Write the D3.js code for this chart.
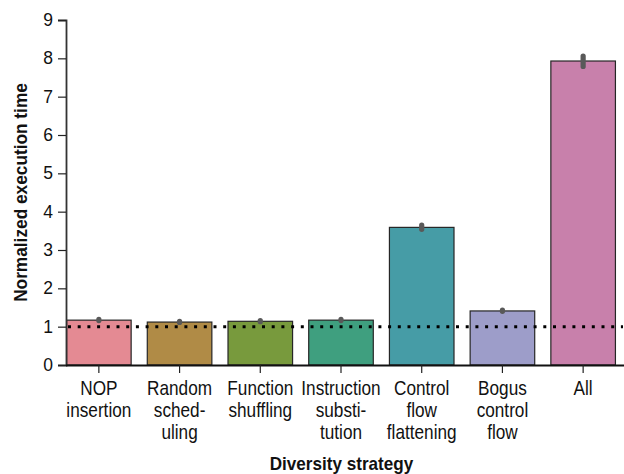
<!DOCTYPE html>
<html>
<head>
<meta charset="utf-8">
<script src="https://cdn.jsdelivr.net/npm/d3@7"></script>
<style>
  html, body { margin: 0; padding: 0; background: #fff; }
  svg text { font-family: "Liberation Sans", Arial, sans-serif; fill: #111; }
</style>
</head>
<body>
<svg id="chart" width="624" height="474"></svg>
<script>
// Diversity strategies (x-axis categories, with manual line breaks)
const strategies = [
  ["NOP", "insertion"],
  ["Random", "sched-", "uling"],
  ["Function", "shuffling"],
  ["Instruction", "substi-", "tution"],
  ["Control", "flow", "flattening"],
  ["Bogus", "control", "flow"],
  ["All"]
];
// Mean normalized execution time per strategy
const meanTime = [1.17, 1.12, 1.14, 1.17, 3.59, 1.41, 7.93];
// Confidence interval bounds
const ciLow  = [1.16, 1.11, 1.13, 1.16, 3.54, 1.40, 7.79];
const ciHigh = [1.19, 1.14, 1.16, 1.19, 3.65, 1.43, 8.06];
// Bar fill colours
const barColors = ["#e48a93", "#b08b46", "#789a3d", "#3f9f7f", "#469ca6", "#9d9dc9", "#c880ab"];
// Y-axis ticks
const yTicks = [0, 1, 2, 3, 4, 5, 6, 7, 8, 9];
const baseline = 1;

const svg = d3.select("#chart");
const m = { left: 66, right: 623, top: 20, bottom: 365 };
const squeeze = 0.86;   // horizontal compression for the condensed label face

const ids = strategies.map((d, i) => i);
const x = d3.scaleBand().domain(ids).range([58.5, 623.5]).paddingInner(0.2).paddingOuter(0.1);
const y = d3.scaleLinear().domain([0, 9]).range([m.bottom, m.top]);
const cx = i => x(i) + x.bandwidth() / 2;

// Bars
svg.append("g").selectAll("rect").data(ids).join("rect")
  .attr("x", i => x(i))
  .attr("y", i => y(meanTime[i]))
  .attr("width", x.bandwidth())
  .attr("height", i => y(0) - y(meanTime[i]))
  .attr("fill", i => barColors[i])
  .attr("stroke", "#262626")
  .attr("stroke-width", 1.2);

// Reference line at 1
svg.append("line")
  .attr("x1", m.left + 2).attr("x2", m.right)
  .attr("y1", y(baseline)).attr("y2", y(baseline))
  .attr("stroke", "#000").attr("stroke-width", 3)
  .attr("stroke-dasharray", "3,6.7");

// Error bars
svg.append("g").selectAll("line").data(ids).join("line")
  .attr("x1", cx).attr("x2", cx)
  .attr("y1", i => y(ciLow[i]))
  .attr("y2", i => y(ciHigh[i]))
  .attr("stroke", "#595959")
  .attr("stroke-width", 5.2)
  .attr("stroke-linecap", "round");

// Y axis
const yAxis = svg.append("g").attr("transform", `translate(${m.left},0)`)
  .call(d3.axisLeft(y).tickValues(yTicks).tickSize(8).tickPadding(5).tickFormat(d3.format("d")));
yAxis.select(".domain").attr("stroke", "#333").attr("stroke-width", 1.8);
yAxis.selectAll(".tick line").attr("stroke", "#222").attr("stroke-width", 1.2);
yAxis.selectAll(".tick text").attr("font-size", 17.5).attr("fill", "#111")
  .attr("font-family", "'Liberation Sans', Arial, sans-serif");

// X axis
const xAxis = svg.append("g").attr("transform", `translate(0,${m.bottom})`)
  .call(d3.axisBottom(x).tickSize(8).tickFormat(""));
xAxis.select(".domain").attr("d", `M${m.left},0.5H${m.right + 1}`).attr("stroke", "#111").attr("stroke-width", 1.8);
xAxis.selectAll(".tick line").attr("stroke", "#222").attr("stroke-width", 1.2);

// Multi-line category labels (condensed)
const labels = svg.append("g").selectAll("g").data(ids).join("g")
  .attr("transform", i => `translate(${cx(i)},395) scale(${squeeze},1)`);
labels.append("text")
  .attr("text-anchor", "middle")
  .attr("font-size", 20)
  .each(function(i) {
    d3.select(this).selectAll("tspan").data(strategies[i]).join("tspan")
      .attr("x", 0)
      .attr("dy", (d, k) => k === 0 ? 0 : 22)
      .text(d => d);
  });

// Axis titles
svg.append("g")
  .attr("transform", `translate(${(m.left + m.right) / 2 - 3},470) scale(0.95,1)`)
  .append("text")
  .attr("text-anchor", "middle")
  .attr("font-size", 18).attr("font-weight", "bold")
  .text("Diversity strategy");

svg.append("g")
  .attr("transform", `translate(27,${(m.top + m.bottom) / 2}) rotate(-90) scale(0.96,1)`)
  .append("text")
  .attr("text-anchor", "middle")
  .attr("font-size", 18).attr("font-weight", "bold")
  .text("Normalized execution time");
</script>
</body>
</html>
